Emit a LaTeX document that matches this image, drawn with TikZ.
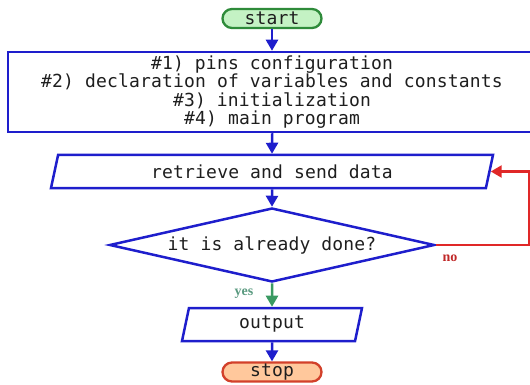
\documentclass[tikz,border=0pt]{standalone}
\usepackage{fontspec}
\newfontfamily\monof[LetterSpace=1]{DejaVu Sans Mono}
\newfontfamily\seriff{Liberation Serif}
\usetikzlibrary{shapes.geometric,arrows.meta}
\definecolor{fblue}{HTML}{1E1ECC}
\definecolor{fred}{HTML}{E02828}
\definecolor{fgreen}{HTML}{3A9A62}
\definecolor{startfill}{HTML}{C4F2C4}
\definecolor{startdraw}{HTML}{2E8B3A}
\definecolor{stopfill}{HTML}{FFC89C}
\definecolor{stopdraw}{HTML}{D2402A}
\definecolor{txt}{HTML}{1E1E1E}
\definecolor{nocol}{HTML}{C02828}
\definecolor{yescol}{HTML}{5A9A80}
\tikzset{
  flow/.style={draw=fblue, line width=2.5pt, inner sep=0pt, text=txt,
    font=\monof\fontsize{18}{18.5}\selectfont},
  term/.style={rectangle, rounded corners=9.5pt, minimum width=99pt,
    minimum height=19pt, line width=2.3pt, inner sep=0pt, text=txt,
    font=\monof\fontsize{18}{18.5}\selectfont},
  para/.style={trapezium, trapezium stretches body, minimum height=33pt},
  arr/.style={-{Triangle[width=12pt,length=11pt]}, line width=2.5pt, draw=fblue},
  lbl/.style={font=\seriff\bfseries\fontsize{14}{14}\selectfont, inner sep=0pt}
}
\begin{document}
\begin{tikzpicture}[x=1pt,y=-1pt]
\clip (0,0) rectangle (530,385);
\node[term, draw=startdraw, fill=startfill] (start) at (272,18.5) {start};
\node[flow, rectangle, minimum width=528pt, minimum height=80pt, align=center] (init) at (272,92)
  {\#1) pins configuration\\\#2) declaration of variables and constants\\\#3) initialization\\\#4) main program};
\node[flow, para, trapezium left angle=63, trapezium right angle=117, minimum width=442pt] (retr) at (272,171.5) {retrieve and send data};
\node[flow, diamond, aspect=4.4, minimum width=325pt, minimum height=74pt] (dec) at (272,245) {it is already done?};
\node[flow, para, trapezium left angle=67, trapezium right angle=113, minimum width=180pt] (out) at (272,324.5) {output};
\node[term, draw=stopdraw, fill=stopfill] (stop) at (272,372) {stop};
\coordinate (rx) at (529,0);
\draw[arr] (start.south) -- (init.north);
\draw[arr] (init.south) -- (retr.north);
\draw[arr] (retr.south) -- (dec.north);
\draw[arr, draw=fgreen] (dec.south) -- (out.north);
\draw[arr] (out.south) -- (stop.north);
\draw[arr, draw=fred] (dec.east) -- (dec.east -| rx) |- (retr.east);
\node[lbl, text=nocol] (no) at (450,258) {no};
\node[lbl, text=yescol] (yes) at (244,294) {yes};
\end{tikzpicture}
\end{document}
